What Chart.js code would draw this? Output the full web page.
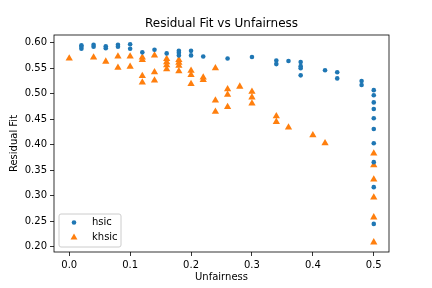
<!DOCTYPE html>
<html>
<head>
<meta charset="utf-8">
<script src="https://cdn.jsdelivr.net/npm/chart.js@4/dist/chart.umd.min.js"></script>
<style>
  html, body { margin: 0; padding: 0; background: #fff; }
  #wrap { width: 432px; height: 288px; }
</style>
</head>
<body>
<div id="wrap"><canvas id="chart" width="432" height="288"></canvas></div>
<script>
// 데이터
const hsicX = [0.02, 0.02, 0.02, 0.04, 0.04, 0.06, 0.06, 0.08, 0.08, 0.10, 0.10,
  0.12, 0.14, 0.16, 0.18, 0.18, 0.18, 0.20, 0.20, 0.22, 0.26, 0.30,
  0.34, 0.34, 0.36, 0.38, 0.38, 0.38, 0.38, 0.42, 0.44, 0.44, 0.48, 0.48,
  0.50, 0.50, 0.50, 0.50, 0.50, 0.50, 0.50, 0.50, 0.50, 0.50];
const hsicY = [0.595, 0.592, 0.588, 0.596, 0.592, 0.593, 0.589, 0.596, 0.592, 0.597, 0.588,
  0.581, 0.586, 0.579, 0.584, 0.580, 0.575, 0.584, 0.575, 0.573, 0.569, 0.572,
  0.565, 0.558, 0.564, 0.562, 0.554, 0.550, 0.536, 0.546, 0.542, 0.530, 0.525, 0.517,
  0.507, 0.497, 0.483, 0.470, 0.452, 0.431, 0.403, 0.366, 0.317, 0.245];

const khsicX = [0.00, 0.04, 0.06, 0.08, 0.08, 0.10, 0.10,
  0.12, 0.12, 0.12, 0.12, 0.14, 0.14, 0.14,
  0.16, 0.16, 0.16, 0.16, 0.18, 0.18, 0.18, 0.18,
  0.20, 0.20, 0.20, 0.22, 0.22, 0.24, 0.24, 0.24,
  0.26, 0.26, 0.26, 0.28, 0.30, 0.30, 0.30, 0.34, 0.34, 0.36, 0.40, 0.42,
  0.50, 0.50, 0.50, 0.50, 0.50, 0.50];
const khsicY = [0.569, 0.571, 0.563, 0.573, 0.551, 0.573, 0.553,
  0.571, 0.566, 0.535, 0.522, 0.575, 0.542, 0.526,
  0.568, 0.562, 0.556, 0.548, 0.566, 0.561, 0.555, 0.544,
  0.545, 0.537, 0.519, 0.532, 0.527, 0.550, 0.487, 0.465,
  0.509, 0.498, 0.474, 0.514, 0.504, 0.493, 0.481, 0.456, 0.445, 0.434, 0.419, 0.403,
  0.383, 0.360, 0.332, 0.297, 0.258, 0.209];

const xTicks = [0.0, 0.1, 0.2, 0.3, 0.4, 0.5];
const yTicks = [0.20, 0.25, 0.30, 0.35, 0.40, 0.45, 0.50, 0.55, 0.60];

const FONT = "'DejaVu Sans', sans-serif";
const BLUE = '#1f77b4';
const ORANGE = '#ff7f0e';

// 제목, 축 제목, 테두리, 범례
const decorPlugin = {
  id: 'decor',
  afterDraw(chart) {
    const { ctx, chartArea: a } = chart;
    ctx.save();
    // 테두리
    ctx.strokeStyle = '#000';
    ctx.lineWidth = 0.8;
    ctx.strokeRect(a.left, a.top, a.right - a.left, a.bottom - a.top);

    ctx.fillStyle = '#000';
    ctx.textAlign = 'center';
    ctx.textBaseline = 'middle';
    ctx.font = '12px ' + FONT;
    ctx.fillText('Residual Fit vs Unfairness', (a.left + a.right) / 2, 24);
    ctx.font = '10px ' + FONT;
    ctx.fillText('Unfairness', (a.left + a.right) / 2, 277);
    ctx.save();
    ctx.translate(14, (a.top + a.bottom) / 2);
    ctx.rotate(-Math.PI / 2);
    ctx.fillText('Residual Fit', 0, 0);
    ctx.restore();

    // 범례
    const bx = a.left + 5, by = a.bottom - 38, bw = 62, bh = 33;
    ctx.beginPath();
    ctx.roundRect(bx, by, bw, bh, 2);
    ctx.fillStyle = 'rgba(255,255,255,0.8)';
    ctx.fill();
    ctx.strokeStyle = '#cccccc';
    ctx.lineWidth = 1;
    ctx.stroke();

    ctx.fillStyle = BLUE;
    ctx.beginPath();
    ctx.arc(bx + 15, by + 8.5, 2.3, 0, Math.PI * 2);
    ctx.fill();

    ctx.fillStyle = ORANGE;
    const tx = bx + 15, ty = by + 23.5, r = 4;
    ctx.beginPath();
    ctx.moveTo(tx, ty - r);
    ctx.lineTo(tx + r * 0.866, ty + r / 2);
    ctx.lineTo(tx - r * 0.866, ty + r / 2);
    ctx.closePath();
    ctx.fill();

    ctx.fillStyle = '#000';
    ctx.textAlign = 'left';
    ctx.font = '10px ' + FONT;
    ctx.fillText('hsic', bx + 33, by + 8.5);
    ctx.fillText('khsic', bx + 33, by + 23.5);
    ctx.restore();
  }
};

new Chart(document.getElementById('chart').getContext('2d'), {
  type: 'scatter',
  data: {
    datasets: [{
      label: 'hsic',
      data: hsicX.map((x, i) => ({ x: x, y: hsicY[i] })),
      backgroundColor: BLUE,
      borderWidth: 0,
      pointStyle: 'circle',
      pointRadius: 2.3
    }, {
      label: 'khsic',
      data: khsicX.map((x, i) => ({ x: x, y: khsicY[i] })),
      backgroundColor: ORANGE,
      borderWidth: 0,
      pointStyle: 'triangle',
      pointRadius: 4.2
    }]
  },
  options: {
    responsive: false,
    animation: false,
    layout: { padding: { left: 0, right: 43, top: 35, bottom: 0 } },
    plugins: {
      legend: { display: false },
      title: { display: false },
      tooltip: { enabled: false }
    },
    scales: {
      x: {
        type: 'linear',
        min: -0.025,
        max: 0.525,
        afterBuildTicks: s => { s.ticks = xTicks.map(v => ({ value: v })); },
        afterFit: s => { s.height = 36; },
        grid: { display: true, drawOnChartArea: false, tickLength: 4, color: '#000', lineWidth: 0.8 },
        border: { display: false },
        ticks: {
          color: '#000',
          font: { family: FONT, size: 10 },
          padding: 3,
          maxRotation: 0,
          callback: v => v.toFixed(1)
        }
      },
      y: {
        type: 'linear',
        min: 0.19,
        max: 0.615,
        afterBuildTicks: s => { s.ticks = yTicks.map(v => ({ value: v })); },
        afterFit: s => { s.width = 54; },
        grid: { display: true, drawOnChartArea: false, tickLength: 4, color: '#000', lineWidth: 0.8 },
        border: { display: false },
        ticks: {
          color: '#000',
          font: { family: FONT, size: 10 },
          padding: 3,
          callback: v => v.toFixed(2)
        }
      }
    }
  },
  plugins: [decorPlugin]
});
</script>
</body>
</html>
